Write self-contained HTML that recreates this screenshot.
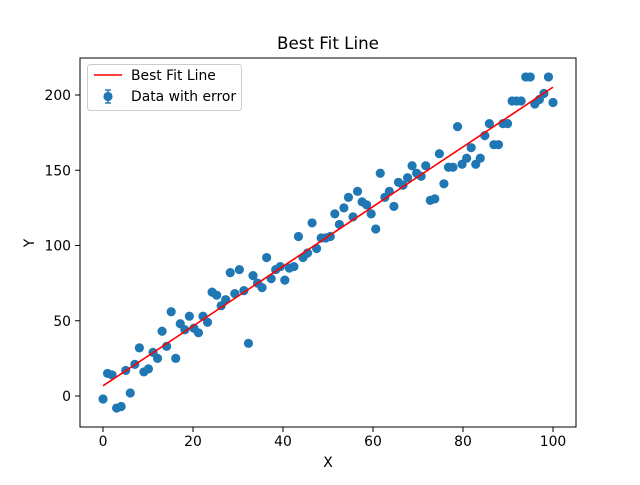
<!DOCTYPE html>
<html><head><meta charset="utf-8"><style>
body{margin:0;background:#fff}
svg text{font-family:"DejaVu Sans","Liberation Sans",sans-serif;fill:#000}
</style></head><body>
<svg id="c" width="640" height="480"></svg>
<script>
const yValues=[-2,15,14,-8,-7,17,2,21,32,16,18,29,25,43,33,56,25,48,44,53,45,42,53,49,69,67,60,64,82,68,84,70,35,80,75,72,92,78,84,86,77,85,86,106,92,95,115,98,105,105,106,121,114,125,132,119,136,129,127,121,111,148,132,136,126,142,140,145,153,148,146,153,130,131,161,141,152,152,179,154,158,165,154,158,173,181,167,167,181,181,196,196,196,212,212,194,197,201,212,195];
const xTicks=[0,20,40,60,80,100];
const yTicks=[0,50,100,150,200];
const L=80,R=576,T=58,B=427;
const sx=v=>103+v*4.5, sy=v=>396-v*1.505;
const svg=document.getElementById('c');const NS='http://www.w3.org/2000/svg';
function mk(t,a,p){const e=document.createElementNS(NS,t);for(const k in a)e.setAttribute(k,a[k]);(p||svg).appendChild(e);return e;}
const xs=yValues.map((_,i)=>i*100/(yValues.length-1));
const n=xs.length,mx=xs.reduce((a,b)=>a+b)/n,my=yValues.reduce((a,b)=>a+b)/n;
let sxy=0,sxx=0;for(let i=0;i<n;i++){sxy+=(xs[i]-mx)*(yValues[i]-my);sxx+=(xs[i]-mx)**2;}
const m=sxy/sxx,b0=my-m*mx;
const pts=mk('g',{});


xs.forEach((x,i)=>{const c=mk('circle',{cx:sx(x),cy:sy(yValues[i]),r:4.6,fill:'#1f77b4'},pts);

});
const fl=mk('line',{x1:sx(0),y1:sy(b0),x2:sx(100),y2:sy(b0+m*100),stroke:'#ff0000','stroke-width':1.6});


const fr=mk('rect',{x:L,y:T,width:R-L,height:B-T,fill:'none',stroke:'#000','stroke-width':1});


xTicks.forEach(v=>{mk('line',{x1:sx(v),x2:sx(v),y1:B,y2:B+5,stroke:'#000','stroke-width':1});
const t=mk('text',{x:sx(v),y:B+19,'text-anchor':'middle','font-size':13.9});t.textContent=v;

});
yTicks.forEach(v=>{mk('line',{x1:L-5,x2:L,y1:sy(v),y2:sy(v),stroke:'#000','stroke-width':1});
const t=mk('text',{x:L-9,y:sy(v)+5,'text-anchor':'end','font-size':13.9});t.textContent=v;

});
let t=mk('text',{x:328,y:49,'text-anchor':'middle','font-size':16.7});t.textContent='Best Fit Line';


t=mk('text',{x:328,y:467,'text-anchor':'middle','font-size':13.9});t.textContent='X';


t=mk('text',{x:34,y:243,'text-anchor':'middle','font-size':13.9,transform:'rotate(-90 34 243)'});t.textContent='Y';


const lg=mk('g',{});


mk('rect',{x:87.5,y:64.5,width:154,height:46,rx:3,fill:'#fff','fill-opacity':0.8,stroke:'#ccc'},lg);
mk('line',{x1:94,x2:122,y1:75,y2:75,stroke:'#ff0000','stroke-width':1.6},lg);
t=mk('text',{x:131,y:80,'font-size':13.9},lg);t.textContent='Best Fit Line';


mk('line',{x1:108,x2:108,y1:90,y2:103,stroke:'#1f77b4','stroke-width':1.4},lg);
mk('line',{x1:105,x2:111,y1:90,y2:90,stroke:'#1f77b4','stroke-width':1.4},lg);
mk('line',{x1:105,x2:111,y1:103,y2:103,stroke:'#1f77b4','stroke-width':1.4},lg);
mk('circle',{cx:108,cy:96.5,r:4.6,fill:'#1f77b4'},lg);
t=mk('text',{x:131,y:101,'font-size':13.9},lg);t.textContent='Data with error';


</script>
</body></html>
